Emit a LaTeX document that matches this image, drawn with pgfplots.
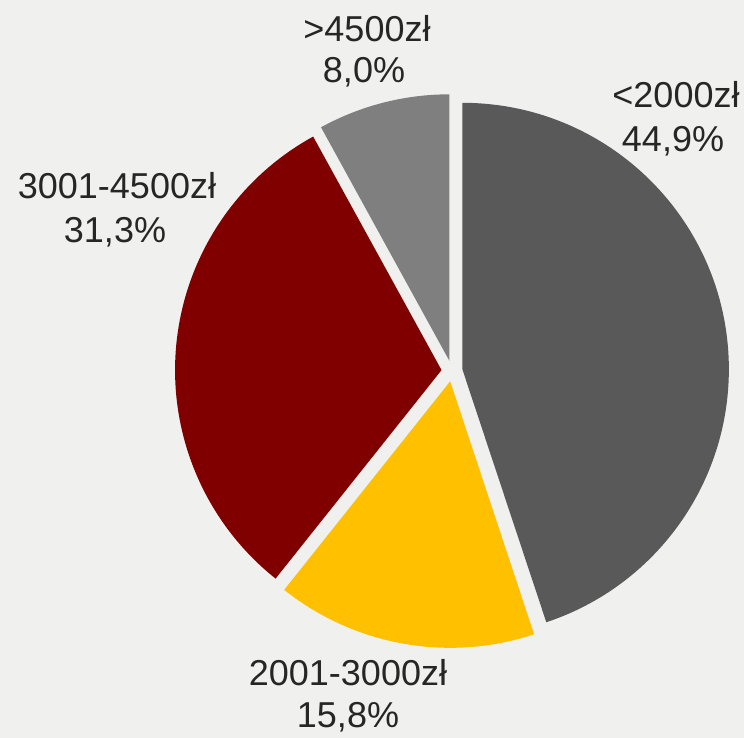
\documentclass[border=0pt]{standalone}
\usepackage{pgfplots}
\pgfplotsset{compat=1.18}
\usepackage{pgfplotstable}
\usepackage{fontspec}
\setmainfont{Liberation Sans}
\definecolor{cA}{HTML}{595959}
\definecolor{cB}{HTML}{FFC000}
\definecolor{cC}{HTML}{800000}
\definecolor{cD}{HTML}{7F7F7F}
\definecolor{bg}{HTML}{F0F0EE}
\definecolor{txt}{HTML}{262626}

\pgfplotstableread{
idx value
0 44.9
1 15.8
2 31.3
3 8.0
}\piedata

% slice: start angle, end angle (clockwise from top, degrees), colour
\newcommand\slice[3]{%
  \pgfmathsetmacro\sm{90-(#1+#2)/2}%
  \pgfmathsetmacro\sx{452+10.5*cos(\sm)}%
  \pgfmathsetmacro\sy{367+10.5*sin(\sm)}%
  \pgfmathsetmacro\ss{90-#1}%
  \pgfmathsetmacro\se{90-#2}%
  \edef\tmp{\noexpand\fill[#3] (axis cs:\sx,\sy) -- ++(\ss:266.5pt) arc[start angle=\ss, end angle=\se, radius=266.5pt] -- cycle;}%
  \tmp}

\begin{document}
\begin{tikzpicture}
\pgfplotstablegetelem{0}{value}\of\piedata \pgfmathsetmacro\vA{\pgfplotsretval}
\pgfplotstablegetelem{1}{value}\of\piedata \pgfmathsetmacro\vB{\pgfplotsretval}
\pgfplotstablegetelem{2}{value}\of\piedata \pgfmathsetmacro\vC{\pgfplotsretval}
\pgfplotstablegetelem{3}{value}\of\piedata \pgfmathsetmacro\vD{\pgfplotsretval}
\pgfmathsetmacro\aA{0}
\pgfmathsetmacro\aB{\aA+\vA*3.6}
\pgfmathsetmacro\aC{\aB+\vB*3.6}
\pgfmathsetmacro\aD{\aC+\vC*3.6}
\pgfmathsetmacro\aE{\aD+\vD*3.6}
\begin{axis}[width=744pt,height=738pt,scale only axis,
  xmin=0,xmax=744,ymin=0,ymax=738,enlargelimits=false,
  hide axis,clip=false]
\fill[bg] (axis cs:0,0) rectangle (axis cs:744,738);
\slice{\aA}{\aB}{cA}
\slice{\aB}{\aC}{cB}
\slice{\aC}{\aD}{cC}
\slice{\aD}{\aE}{cD}
\begin{scope}[every node/.style={anchor=base,text=txt,inner sep=0pt,font=\fontsize{36}{42}\selectfont}]
\node at (axis cs:367,696) {>4500zł};
\node at (axis cs:364,655) {8,0\%};
\node at (axis cs:676,630) {<2000zł};
\node at (axis cs:673,586) {44,9\%};
\node at (axis cs:117,539) {3001-4500zł};
\node at (axis cs:115,495) {31,3\%};
\node at (axis cs:348,52) {2001-3000zł};
\node at (axis cs:348,10) {15,8\%};
\end{scope}
\end{axis}
\pgfresetboundingbox
\path (0,0) rectangle (744pt,738pt);
\end{tikzpicture}
\end{document}
